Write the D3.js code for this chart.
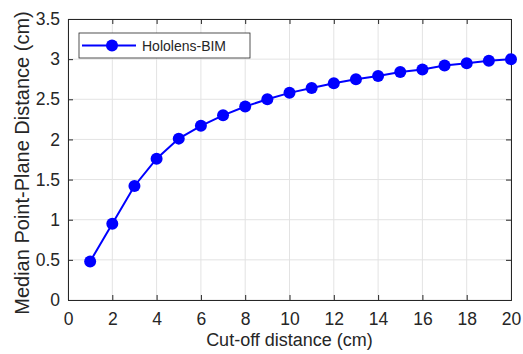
<!DOCTYPE html>
<meta charset="utf-8">
<style>
body { margin: 0; background: #fff; }
text { font-family: "Liberation Sans", Arial, sans-serif; fill: #262626; }
</style>
<body>
<svg id="chart" width="523" height="354"></svg>
</body>
<script src="https://d3js.org/d3.v7.min.js"></script>
<script>

var cutoff = [1, 2, 3, 4, 5, 6, 7, 8, 9, 10, 11, 12, 13, 14, 15, 16, 17, 18, 19, 20];
var medianDist = [0.48, 0.95, 1.42, 1.76, 2.01, 2.17, 2.30, 2.41, 2.50, 2.58, 2.64, 2.70, 2.75, 2.79, 2.84, 2.87, 2.92, 2.95, 2.98, 3.00];
var xTicks = [0, 2, 4, 6, 8, 10, 12, 14, 16, 18, 20];
var yTicks = [0, 0.5, 1, 1.5, 2, 2.5, 3, 3.5];
var seriesName = "Hololens-BIM";

var svg = d3.select("#chart"),
    margin = {top: 19, right: 12, bottom: 54, left: 68},
    width = +svg.attr("width") - margin.left - margin.right,
    height = +svg.attr("height") - margin.top - margin.bottom,
    g = svg.append("g").attr("transform", "translate(" + margin.left + "," + margin.top + ")");

var x = d3.scaleLinear().domain([0, 20]).range([0, width]);
var y = d3.scaleLinear().domain([0, 3.5]).range([height, 0]);

// grid
g.append("g").selectAll("line").data(xTicks).enter().append("line")
    .attr("x1", x).attr("x2", x).attr("y1", 0).attr("y2", height)
    .attr("stroke", "#e3e3e3").attr("stroke-width", 1);
g.append("g").selectAll("line").data(yTicks).enter().append("line")
    .attr("y1", y).attr("y2", y).attr("x1", 0).attr("x2", width)
    .attr("stroke", "#e3e3e3").attr("stroke-width", 1);

// axes, ticks pointing inward
var axX = g.append("g").attr("transform", "translate(0," + height + ")")
    .call(d3.axisBottom(x).tickValues(xTicks).tickSize(-5).tickPadding(13).tickFormat(d3.format("d")));
var axY = g.append("g")
    .call(d3.axisLeft(y).tickValues(yTicks).tickSize(-5).tickPadding(8).tickFormat(function(d) { return d; }));
var axT = g.append("g")
    .call(d3.axisTop(x).tickValues(xTicks).tickSize(-5).tickFormat(""));
var axR = g.append("g").attr("transform", "translate(" + width + ",0)")
    .call(d3.axisRight(y).tickValues(yTicks).tickSize(-5).tickFormat(""));

[axX, axY, axT, axR].forEach(function(a) {
  a.select(".domain").attr("stroke", "#262626");
  a.selectAll(".tick line").attr("stroke", "#262626");
  a.selectAll(".tick text").style("font-size", "17.5px").attr("fill", "#262626");
});

// line + markers
var line = d3.line().x(function(d, i) { return x(cutoff[i]); }).y(function(d) { return y(d); });
g.append("path").datum(medianDist)
    .attr("fill", "none").attr("stroke", "#0000ff").attr("stroke-width", 2)
    .attr("d", line);
g.selectAll(".pt").data(medianDist).enter().append("circle")
    .attr("class", "pt")
    .attr("cx", function(d, i) { return x(cutoff[i]); })
    .attr("cy", y)
    .attr("r", 6)
    .attr("fill", "#0000ff");

// legend
var legend = g.append("g").attr("transform", "translate(11,14)");
legend.append("rect").attr("width", 171).attr("height", 25)
    .attr("fill", "#fff").attr("stroke", "#262626").attr("stroke-width", 0.8);
legend.append("line").attr("x1", 3).attr("x2", 57).attr("y1", 12.5).attr("y2", 12.5)
    .attr("stroke", "#0000ff").attr("stroke-width", 2);
legend.append("circle").attr("cx", 33).attr("cy", 12.5).attr("r", 6).attr("fill", "#0000ff");
legend.append("text").attr("x", 63).attr("y", 17.5).style("font-size", "14px").text(seriesName);

// axis labels
svg.append("text")
    .attr("x", margin.left + width / 2).attr("y", 345.5)
    .attr("text-anchor", "middle").style("font-size", "18px")
    .text("Cut-off distance (cm)");
svg.append("text")
    .attr("transform", "translate(28.5,163) rotate(-90)")
    .attr("text-anchor", "middle").style("font-size", "20px")
    .text("Median Point-Plane Distance (cm)");

</script>
